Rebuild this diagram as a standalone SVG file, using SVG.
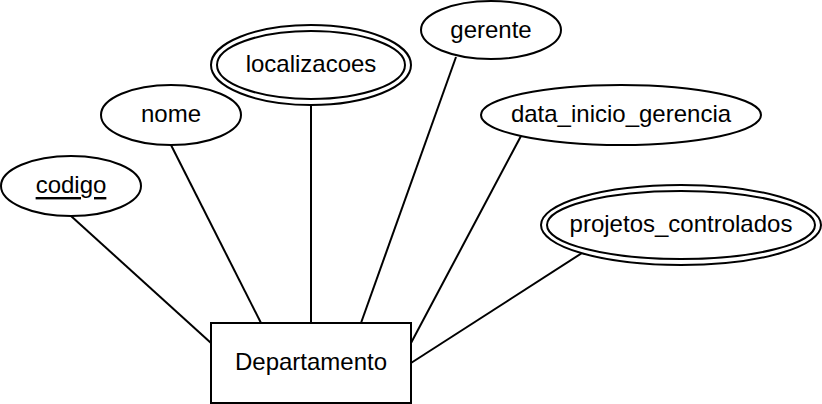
<svg xmlns="http://www.w3.org/2000/svg" width="822" height="404" viewBox="0 0 822 404">
<style>
.s{fill:#fff;stroke:#000;stroke-width:2}
.l{stroke:#000;stroke-width:2;fill:none}
text{font-family:"Liberation Sans",Arial,sans-serif;font-size:24px;fill:#000;text-anchor:middle;dominant-baseline:central}
.u{text-decoration:underline;text-decoration-skip-ink:none}
</style>
<rect width="822" height="404" fill="#fff"/>
<g id="connectors">
<line class="l" x1="71" y1="216" x2="211" y2="343"/>
<line class="l" x1="171" y1="145" x2="261" y2="323"/>
<line class="l" x1="311" y1="105" x2="311" y2="323"/>
<line class="l" x1="456" y1="57" x2="361" y2="323"/>
<line class="l" x1="521" y1="136" x2="411" y2="343"/>
<line class="l" x1="582" y1="253" x2="411" y2="363"/>
</g>
<g id="departamento">
<rect class="s" x="211" y="323" width="200" height="80"/>
<text x="311" y="361.5">Departamento</text>
</g>
<g id="codigo">
<ellipse class="s" cx="71" cy="186" rx="70" ry="30"/>
<text class="u" x="71" y="184.5">codigo</text>
</g>
<g id="nome">
<ellipse class="s" cx="171" cy="115" rx="70" ry="30"/>
<text x="171" y="113.5">nome</text>
</g>
<g id="localizacoes">
<ellipse class="s" cx="311" cy="65" rx="100" ry="40"/>
<ellipse class="s" cx="311" cy="65" rx="94" ry="34"/>
<text x="311" y="63">localizacoes</text>
</g>
<g id="gerente">
<ellipse class="s" cx="491" cy="30" rx="70" ry="29"/>
<text x="491" y="29">gerente</text>
</g>
<g id="data_inicio_gerencia">
<ellipse class="s" cx="621" cy="115" rx="140" ry="30"/>
<text x="621" y="113.5">data_inicio_gerencia</text>
</g>
<g id="projetos_controlados">
<ellipse class="s" cx="681" cy="225" rx="140" ry="40"/>
<ellipse class="s" cx="681" cy="225" rx="134" ry="34"/>
<text x="681" y="223.5">projetos_controlados</text>
</g>
</svg>
